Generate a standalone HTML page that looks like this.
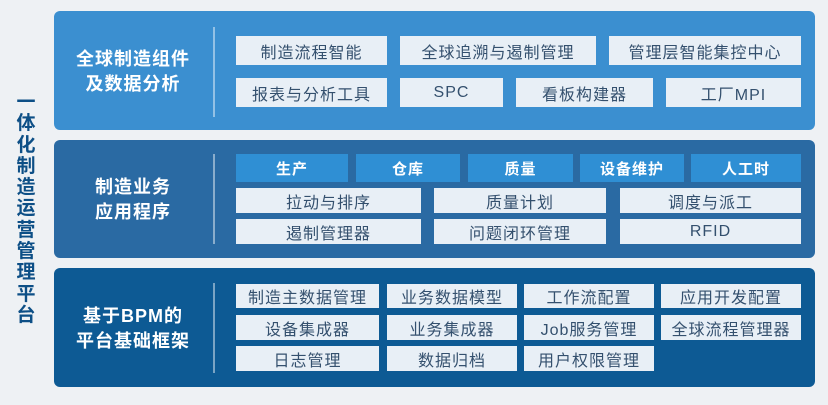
<!DOCTYPE html>
<html><head><meta charset="utf-8"><style>
*{margin:0;padding:0;box-sizing:border-box}
body{width:828px;height:405px;background:#eef1f4;position:relative;overflow:hidden;font-family:"Liberation Sans","Noto Sans CJK SC",sans-serif}
.p{position:absolute;left:54px;width:761px;border-radius:6px}
.lbl{position:absolute;color:#fff;font-weight:bold;font-size:18px;line-height:25px;text-align:center;width:156px;left:55px;letter-spacing:1px}
.div{position:absolute;left:213px;width:2px;background:rgba(255,255,255,0.45)}
.b{position:absolute;background:#e8eff6;color:#34506e;font-size:16px;display:flex;align-items:center;justify-content:center;letter-spacing:1px;white-space:nowrap}
.h{position:absolute;background:#2f8fd4;color:#fff;font-weight:bold;font-size:15px;display:flex;align-items:center;justify-content:center;letter-spacing:1px}
.v{position:absolute;left:14px;top:92px;width:24px;font-size:19px;line-height:21.3px;font-weight:bold;color:#0d4f86;text-align:center}
</style></head><body>
<div class="v">一<br>体<br>化<br>制<br>造<br>运<br>营<br>管<br>理<br>平<br>台</div>

<div class="p" style="top:11px;height:119px;background:#3b8fd0"></div>
<div class="div" style="top:27px;height:90px"></div>
<div class="lbl" style="top:47px">全球制造组件<br>及数据分析</div>
<div class="b" style="left:236px;top:36px;width:151px;height:29px">制造流程智能</div>
<div class="b" style="left:400px;top:36px;width:196px;height:29px">全球追溯与遏制管理</div>
<div class="b" style="left:609px;top:36px;width:192px;height:29px">管理层智能集控中心</div>
<div class="b" style="left:236px;top:78px;width:151px;height:29px">报表与分析工具</div>
<div class="b" style="left:400px;top:78px;width:103px;height:29px">SPC</div>
<div class="b" style="left:516px;top:78px;width:137px;height:29px">看板构建器</div>
<div class="b" style="left:666px;top:78px;width:135px;height:29px">工厂MPI</div>

<div class="p" style="top:140px;height:118px;background:#2a6aa3"></div>
<div class="div" style="top:154px;height:90px"></div>
<div class="lbl" style="top:175px">制造业务<br>应用程序</div>
<div class="h" style="left:236px;top:154px;width:112px;height:28px">生产</div>
<div class="h" style="left:356px;top:154px;width:104px;height:28px">仓库</div>
<div class="h" style="left:468px;top:154px;width:105px;height:28px">质量</div>
<div class="h" style="left:580px;top:154px;width:104px;height:28px">设备维护</div>
<div class="h" style="left:691px;top:154px;width:110px;height:28px">人工时</div>
<div class="b" style="left:236px;top:188px;width:185px;height:25px">拉动与排序</div>
<div class="b" style="left:434px;top:188px;width:172px;height:25px">质量计划</div>
<div class="b" style="left:620px;top:188px;width:181px;height:25px">调度与派工</div>
<div class="b" style="left:236px;top:219px;width:185px;height:25px">遏制管理器</div>
<div class="b" style="left:434px;top:219px;width:172px;height:25px">问题闭环管理</div>
<div class="b" style="left:620px;top:219px;width:181px;height:25px">RFID</div>

<div class="p" style="top:268px;height:119px;background:#0d5a94"></div>
<div class="div" style="top:283px;height:90px"></div>
<div class="lbl" style="top:304px">基于BPM的<br>平台基础框架</div>
<div class="b" style="left:236px;top:284px;width:143px;height:24px">制造主数据管理</div>
<div class="b" style="left:387px;top:284px;width:130px;height:24px">业务数据模型</div>
<div class="b" style="left:524px;top:284px;width:130px;height:24px">工作流配置</div>
<div class="b" style="left:661px;top:284px;width:140px;height:24px">应用开发配置</div>
<div class="b" style="left:236px;top:315px;width:143px;height:25px">设备集成器</div>
<div class="b" style="left:387px;top:315px;width:130px;height:25px">业务集成器</div>
<div class="b" style="left:524px;top:315px;width:130px;height:25px">Job服务管理</div>
<div class="b" style="left:661px;top:315px;width:140px;height:25px">全球流程管理器</div>
<div class="b" style="left:236px;top:346px;width:143px;height:25px">日志管理</div>
<div class="b" style="left:387px;top:346px;width:130px;height:25px">数据归档</div>
<div class="b" style="left:524px;top:346px;width:130px;height:25px">用户权限管理</div>
</body></html>
